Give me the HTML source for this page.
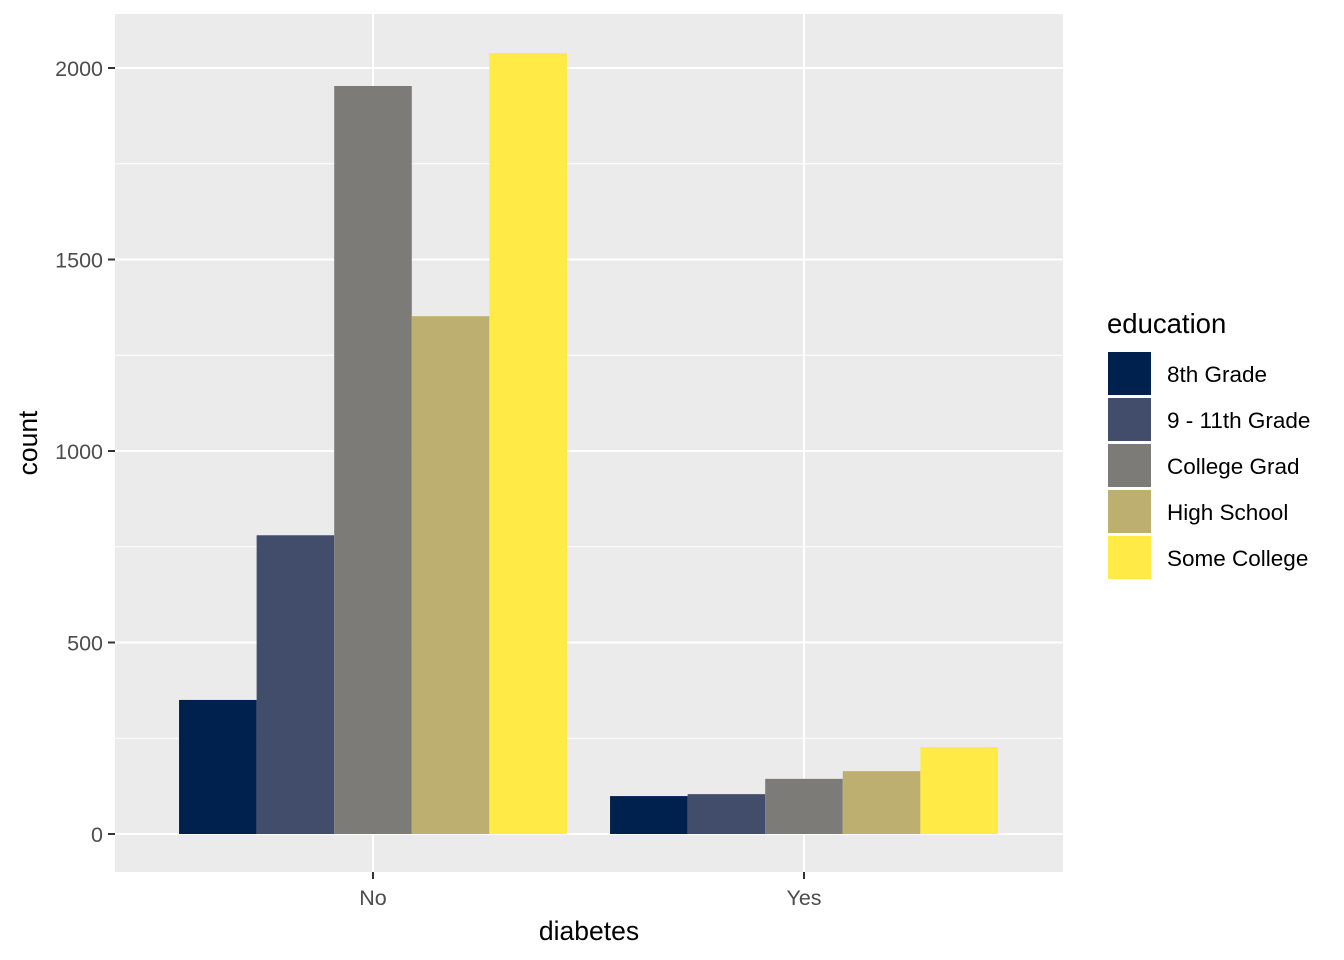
<!DOCTYPE html>
<html><head><meta charset="utf-8"><style>body{margin:0;background:#fff}svg{display:block;font-family:"Liberation Sans",Arial,sans-serif}</style></head>
<body>
<svg id="chart" width="1344" height="960" xmlns="http://www.w3.org/2000/svg"></svg>
<script>
const categories = ["No", "Yes"];
const groups = ["8th Grade", "9 - 11th Grade", "College Grad", "High School", "Some College"];
const valuesNo = [350, 780, 1953, 1352, 2039];
const valuesYes = [99, 104, 144, 164, 227];
const yTicks = [0, 500, 1000, 1500, 2000];
const colors = ["#00204D", "#414D6B", "#7C7B78", "#BCAF6F", "#FFEA46"];
const series = [valuesNo, valuesYes];

const svg = document.getElementById('chart');
const NS = "http://www.w3.org/2000/svg";
function mk(tag, attrs, parent) {
  const e = document.createElementNS(NS, tag);
  for (const k in attrs) e.setAttribute(k, attrs[k]);
  (parent || svg).appendChild(e);
  return e;
}
const pL = 115, pR = 1063, pT = 14, pB = 872;
const y0 = 834, yPer = (834 - 68) / 2000;
const yS = v => y0 - v * yPer;
const catC = [373, 804];
const step = 431;
const bw = step * 0.9 / groups.length;

const panel = mk('rect', {x: pL, y: pT, width: pR - pL, height: pB - pT, fill: '#EBEBEB'});


for (let i = 0; i < yTicks.length - 1; i++) {
  const m = (yTicks[i] + yTicks[i + 1]) / 2;
  mk('line', {x1: pL, x2: pR, y1: yS(m), y2: yS(m), stroke: '#fff', 'stroke-width': 1});
}
yTicks.forEach(t => {
  const l = mk('line', {x1: pL, x2: pR, y1: yS(t), y2: yS(t), stroke: '#fff', 'stroke-width': 2});
  
  
  mk('line', {x1: pL - 7, x2: pL, y1: yS(t), y2: yS(t), stroke: '#333', 'stroke-width': 2});
  const tx = mk('text', {x: pL - 12, y: yS(t) + 8, 'text-anchor': 'end', 'font-size': 21.5, fill: '#4D4D4D'});
  tx.textContent = t;
  
  
});
categories.forEach((c, ci) => {
  mk('line', {x1: catC[ci], x2: catC[ci], y1: pT, y2: pB, stroke: '#fff', 'stroke-width': 2});
  mk('line', {x1: catC[ci], x2: catC[ci], y1: pB, y2: pB + 7, stroke: '#333', 'stroke-width': 2});
  const tx = mk('text', {x: catC[ci], y: pB + 33, 'text-anchor': 'middle', 'font-size': 21.5, fill: '#4D4D4D'});
  tx.textContent = c;
  
  
  const start = catC[ci] - step * 0.45;
  series[ci].forEach((v, gi) => {
    const r = mk('rect', {x: start + gi * bw, y: yS(v), width: bw, height: y0 - yS(v), fill: colors[gi]});
    
    
  });
});
const xt = mk('text', {x: 589, y: 940, 'text-anchor': 'middle', 'font-size': 26.5, fill: '#000'});
xt.textContent = 'diabetes';


const yt = mk('text', {x: 0, y: 0, 'text-anchor': 'middle', 'font-size': 26.5, fill: '#000', transform: 'translate(37,443) rotate(-90)'});
yt.textContent = 'count';


const lt = mk('text', {x: 1107, y: 333, 'font-size': 27.5, fill: '#000'});
lt.textContent = 'education';


groups.forEach((g, gi) => {
  const y = 352 + gi * 46;
  const k = mk('rect', {x: 1108, y: y, width: 43, height: 43, fill: colors[gi]});
  
  
  const t = mk('text', {x: 1167, y: y + 30, 'font-size': 22.5, fill: '#000'});
  t.textContent = g;
  
  
});
</script>
</body></html>
